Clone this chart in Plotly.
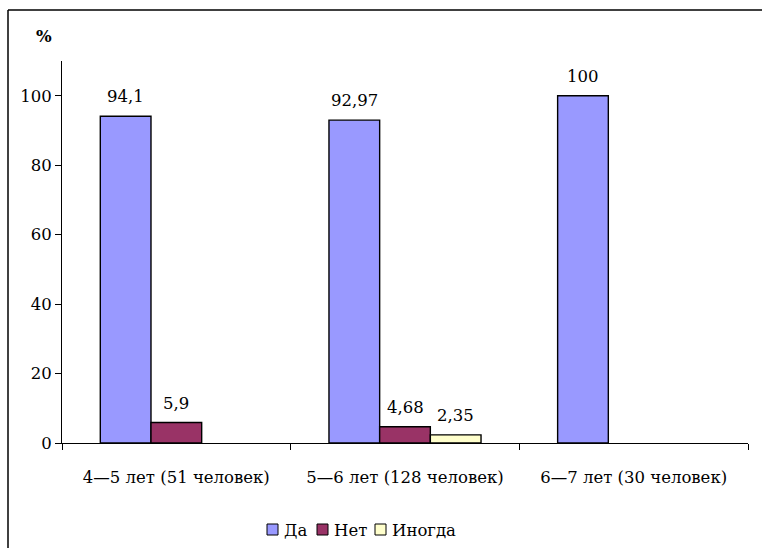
import plotly.graph_objects as go

# Age groups and the share of answers in each group, %
categories = ["4—5 лет (51 человек)", "5—6 лет (128 человек)", "6—7 лет (30 человек)"]
series_names = ["Да", "Нет", "Иногда"]
da_values = [94.1, 92.97, 100]
net_values = [5.9, 4.68, None]
inogda_values = [None, 2.35, None]
y_tick_values = [0, 20, 40, 60, 80, 100]

series_values = [da_values, net_values, inogda_values]
colors = ["#9999FF", "#993366", "#FFFFCC"]

FONT = "DejaVu Serif"
FS = 16.5

W, H = 762, 548
ML, MR, MT, MB = 62, 14, 61, 105
PW, PH = W - ML - MR, H - MT - MB


def px_x(x):
    """pixel column -> paper x"""
    return (x - ML) / PW


def px_y(y):
    """pixel row -> paper y"""
    return 1 - (y - MT) / PH


def fmt(v):
    return f"{v:g}".replace(".", ",")


fig = go.Figure()
for name, vals, col in zip(series_names, series_values, colors):
    fig.add_trace(go.Bar(
        x=categories,
        y=vals,
        name=name,
        marker=dict(color=col, line=dict(color="black", width=1.4)),
        offsetgroup=name,
        showlegend=False,
    ))

BARGAP = 0.335
n = len(series_names)
# value labels above the bars
for si, vals in enumerate(series_values):
    for ci, v in enumerate(vals):
        if v is None:
            continue
        group_w = 1 - BARGAP
        xoff = -group_w / 2 + group_w / n * (si + 0.5)
        fig.add_annotation(
            x=ci + xoff, y=v, xref="x", yref="y",
            text=fmt(v), showarrow=False,
            xanchor="center", yanchor="bottom", yshift=8,
            font=dict(family=FONT, size=FS, color="black"),
        )

# "%" caption over the value axis
fig.add_annotation(
    x=px_x(44), y=px_y(37), xref="paper", yref="paper",
    text="<b>%</b>", showarrow=False,
    xanchor="center", yanchor="middle",
    font=dict(family=FONT, size=FS, color="black"),
)

# legend row under the axis: swatch + label
legend_x = [267, 317, 375]
legend_y = 530
for name, col, lx in zip(series_names, colors, legend_x):
    fig.add_shape(type="rect", xref="paper", yref="paper",
                  x0=px_x(lx), x1=px_x(lx + 11),
                  y0=px_y(legend_y - 6), y1=px_y(legend_y + 5),
                  fillcolor=col, line=dict(color="black", width=1))
    fig.add_annotation(
        x=px_x(lx + 15), y=px_y(legend_y), xref="paper", yref="paper",
        text=name, showarrow=False, xanchor="left", yanchor="middle",
        font=dict(family=FONT, size=FS, color="black"),
    )

# frame around the chart (top and left edges)
fig.add_shape(type="line", xref="paper", yref="paper",
              x0=px_x(8), x1=px_x(W + 10), y0=px_y(10), y1=px_y(10),
              line=dict(color="black", width=1.5))
fig.add_shape(type="line", xref="paper", yref="paper",
              x0=px_x(8), x1=px_x(8), y0=px_y(10), y1=px_y(H + 10),
              line=dict(color="black", width=1.5))

fig.update_layout(
    width=W, height=H,
    margin=dict(l=ML, r=MR, t=MT, b=MB, autoexpand=False),
    paper_bgcolor="white", plot_bgcolor="white",
    barmode="group", bargap=BARGAP, bargroupgap=0,
    font=dict(family=FONT, size=FS, color="black"),
    showlegend=False,
    xaxis=dict(
        type="category", automargin=False,
        showline=True, linecolor="black", linewidth=1,
        ticks="outside", tickson="boundaries", ticklen=6, tickcolor="black",
        ticklabelstandoff=19,
        showgrid=False, zeroline=False,
        tickfont=dict(family=FONT, size=FS, color="black"),
    ),
    yaxis=dict(
        range=[0, 110], automargin=False,
        tickvals=y_tick_values,
        ticktext=[str(t) for t in y_tick_values],
        showline=True, linecolor="black", linewidth=1,
        ticks="outside", ticklen=6, tickcolor="black",
        showgrid=False, zeroline=False,
        tickfont=dict(family=FONT, size=FS, color="black"),
    ),
)

fig.write_html("out.html")
